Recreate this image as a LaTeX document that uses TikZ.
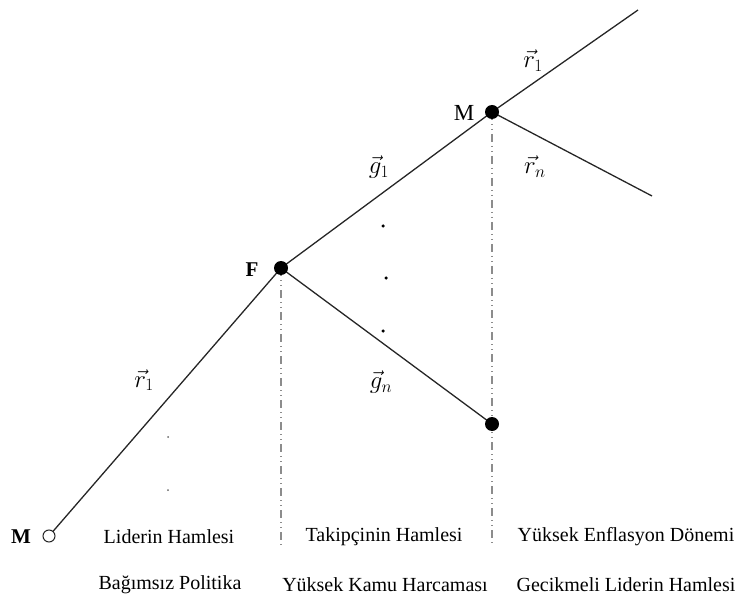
\documentclass[tikz,border=0pt]{standalone}
\usepackage{fontspec}
\setmainfont{Liberation Serif}
\begin{document}
\begin{tikzpicture}[x=1pt,y=-1pt,
  edge/.style={line width=1.3pt,black!85},
  guide/.style={line width=1.2pt,black!45,dash pattern=on 8pt off 4pt on 1pt off 4pt on 1pt off 4pt},
  solid node/.style={circle,fill=black,inner sep=0pt,minimum size=14pt},
  open node/.style={circle,draw=black!85,line width=1pt,fill=white,inner sep=0pt,minimum size=12pt},
  lbl/.style={font=\fontsize{23}{26}\selectfont},
  blbl/.style={font=\fontsize{21}{24}\selectfont\bfseries},
  mlbl/.style={font=\fontsize{26}{30}\selectfont,inner sep=0pt},
  txt/.style={font=\fontsize{20}{24}\selectfont},
  bigdot/.style={circle,fill=black,inner sep=0pt,minimum size=3.5pt},
  smalldot/.style={circle,fill=black!60,inner sep=0pt,minimum size=2pt}]
\useasboundingbox (0,0) rectangle (743,601);
% positions
\coordinate (pm0) at (49,536);
\coordinate (pf) at (281,268);
\coordinate (pm1) at (492,112);
\coordinate (pgn) at (492,424);
\coordinate (top) at (638,10);
\coordinate (rn) at (652,196);
\coordinate (fb) at (281,545);
\coordinate (mb) at (492,545);
% guides
\draw[guide] (pf) -- (fb);
\draw[guide] (pm1) -- (mb);
% edges
\draw[edge] (pm0) -- (pf);
\draw[edge] (pf) -- (pm1);
\draw[edge] (pf) -- (pgn);
\draw[edge] (pm1) -- (top);
\draw[edge] (pm1) -- (rn);
% nodes
\node[open node] (m0) at (pm0) {};
\node[solid node] (f) at (pf) {};
\node[solid node] (m1) at (pm1) {};
\node[solid node] (gn) at (pgn) {};
% node labels
\node[blbl] (lm0) at (21,537) {M};
\node[blbl] (lf) at (252,270) {F};
\node[lbl] (lm1) at (464,113) {M};
% edge labels
\node[mlbl] (er1) at (144,380) {$\vec{r}_1$};
\node[mlbl] (eg1) at (379,167) {$\vec{g}_1$};
\node[mlbl] (egn) at (381,382) {$\vec{g}_n$};
\node[mlbl] (etr1) at (533,61) {$\vec{r}_1$};
\node[mlbl] (etrn) at (535,167) {$\vec{r}_n$};
% dots
\node[bigdot] (d1) at (383,226) {};
\node[bigdot] (d2) at (386,278) {};
\node[bigdot] (d3) at (383,331) {};
\node[smalldot] (d4) at (168,437) {};
\node[smalldot] (d5) at (168,490) {};
% bottom texts
\node[txt] (t1) at (169,537) {Liderin Hamlesi};
\node[txt] (t2) at (384,537) {Takipçinin Hamlesi};
\node[txt] (t3) at (626,537) {Yüksek Enflasyon Dönemi};
\node[txt] (t4) at (170,585) {Bağımsız Politika};
\node[txt] (t5) at (385,585) {Yüksek Kamu Harcaması};
\node[txt] (t6) at (626,585) {Gecikmeli Liderin Hamlesi};
\end{tikzpicture}
\end{document}
